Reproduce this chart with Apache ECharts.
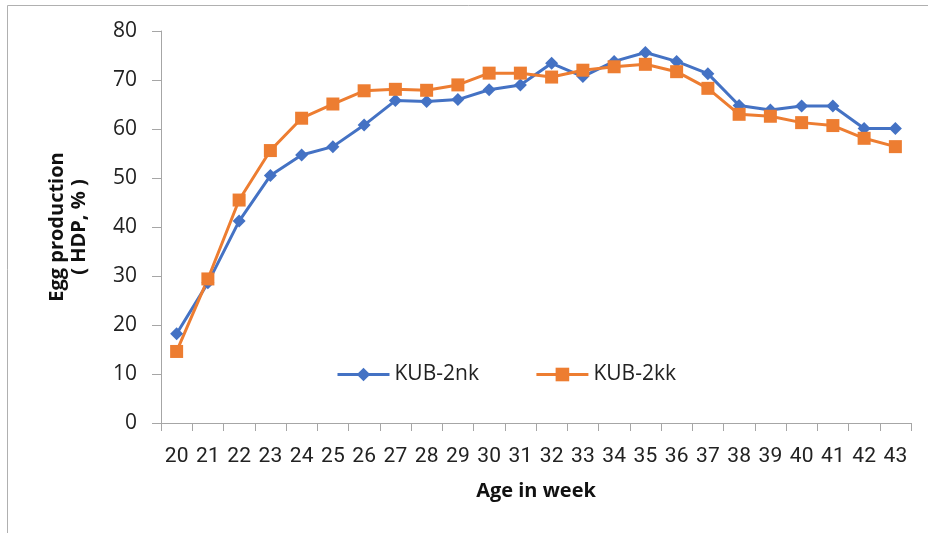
<!DOCTYPE html>
<html>
<head>
    <meta charset="UTF-8">
    <title>Egg production</title>
    <script src="https://cdn.jsdelivr.net/npm/echarts@6/dist/echarts.min.js"></script>
</head>
<body style="margin:0;">
<div id="chart" style="width:928px; height:533px;"></div>
<script>
    var weeks = ['20', '21', '22', '23', '24', '25', '26', '27', '28', '29', '30', '31',
        '32', '33', '34', '35', '36', '37', '38', '39', '40', '41', '42', '43'];
    var kub2nk = [18.2, 28.6, 41.2, 50.5, 54.7, 56.4, 60.8, 65.8, 65.6, 66.0, 68.0, 69.0,
        73.4, 70.7, 73.8, 75.6, 73.8, 71.3, 64.8, 63.9, 64.7, 64.7, 60.1, 60.1];
    var kub2kk = [14.6, 29.4, 45.5, 55.6, 62.2, 65.1, 67.8, 68.1, 67.9, 69.0, 71.4, 71.4,
        70.6, 72.0, 72.7, 73.2, 71.7, 68.3, 63.0, 62.6, 61.3, 60.7, 58.1, 56.4];

    var chart = echarts.init(document.getElementById('chart'), null, {renderer: 'canvas'});
    var axisGrey = '#a6a6a6';
    var option = {
        backgroundColor: '#fff',
        animation: false,
        graphic: [{
            type: 'rect',
            shape: {x: 7.5, y: 5.5, width: 940, height: 540},
            style: {fill: 'none', stroke: '#b0b0b0', lineWidth: 1}
        }],
        legend: {
            left: 331,
            top: 359,
            itemWidth: 52,
            itemHeight: 17,
            itemGap: 56,
            lineStyle: {width: 3},
            textStyle: {fontFamily: 'Open Sans', fontSize: 21, color: '#222'},
            data: ['KUB-2nk', 'KUB-2kk']
        },
        grid: {left: 161, right: 17, top: 31, bottom: 110},
        xAxis: {
            type: 'category',
            data: weeks,
            boundaryGap: true,
            name: 'Age in week',
            nameLocation: 'middle',
            nameGap: 58,
            nameTextStyle: {fontFamily: 'Open Sans', fontWeight: 'bold', fontSize: 20, color: '#111'},
            axisLine: {lineStyle: {color: axisGrey, width: 1}},
            axisTick: {show: true, length: 8, lineStyle: {color: axisGrey}},
            axisLabel: {margin: 23, fontFamily: 'Liberation Sans Narrow, Roboto', fontSize: 21, color: '#222', interval: 0}
        },
        yAxis: {
            type: 'value',
            min: 0,
            max: 80,
            interval: 10,
            name: 'Egg production\n( HDP, % )',
            nameLocation: 'middle',
            nameGap: 71,
            nameTextStyle: {fontFamily: 'Open Sans', fontWeight: 'bold', fontSize: 20, color: '#111', lineHeight: 22},
            axisLine: {show: true, lineStyle: {color: axisGrey, width: 1}},
            axisTick: {show: true, length: 9, lineStyle: {color: axisGrey}},
            splitLine: {show: false},
            axisLabel: {margin: 24, fontFamily: 'Open Sans', fontSize: 21, color: '#222'}
        },
        series: [{
            name: 'KUB-2nk',
            type: 'line',
            data: kub2nk,
            symbol: 'diamond',
            symbolSize: 13,
            itemStyle: {color: '#4472c4'},
            lineStyle: {color: '#4472c4', width: 3}
        }, {
            name: 'KUB-2kk',
            type: 'line',
            data: kub2kk,
            symbol: 'rect',
            symbolSize: 13,
            itemStyle: {color: '#ed7d31'},
            lineStyle: {color: '#ed7d31', width: 3}
        }]
    };
    chart.setOption(option);
</script>
</body>
</html>
